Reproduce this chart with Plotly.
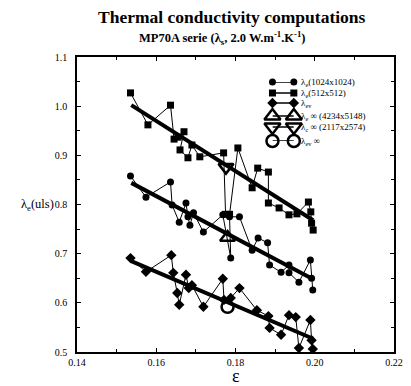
import plotly.graph_objects as go

# ---- data ----
eps_512 = [0.1535, 0.1579, 0.1636, 0.1645, 0.1655, 0.1670, 0.1660, 0.1680, 0.1690, 0.1710,
           0.1770, 0.1775, 0.1785, 0.1806, 0.1842, 0.1856, 0.1883, 0.1883, 0.1910, 0.1935,
           0.1955, 0.1984, 0.1990, 0.1992, 0.1996]
lam_512 = [1.027, 0.962, 1.002, 0.933, 0.937, 0.948, 0.911, 0.895, 0.921, 0.897,
           0.905, 0.780, 0.780, 0.915, 0.834, 0.874, 0.866, 0.803, 0.793, 0.779,
           0.781, 0.805, 0.785, 0.762, 0.748]

eps_1024 = [0.1535, 0.1574, 0.1636, 0.1640, 0.1658, 0.1675, 0.1680, 0.1685, 0.1694, 0.1719,
            0.1768, 0.1788, 0.1785, 0.1810, 0.1842, 0.1857, 0.1881, 0.1886, 0.1915, 0.1935,
            0.1935, 0.1960, 0.1989, 0.1992, 0.1995]
lam_1024 = [0.858, 0.815, 0.846, 0.799, 0.764, 0.803, 0.775, 0.758, 0.783, 0.744,
            0.779, 0.691, 0.775, 0.775, 0.707, 0.732, 0.722, 0.677, 0.662, 0.677,
            0.661, 0.642, 0.687, 0.650, 0.626]

eps_ev = [0.1535, 0.1574, 0.1638, 0.1643, 0.1653, 0.1658, 0.1675, 0.1682, 0.1690, 0.1719,
          0.1768, 0.1771, 0.1788, 0.1810, 0.1854, 0.1883, 0.1886, 0.1915, 0.1935, 0.1952,
          0.1960, 0.1989, 0.1992, 0.1995]
lam_ev = [0.691, 0.663, 0.697, 0.661, 0.620, 0.596, 0.657, 0.630, 0.636, 0.592,
          0.649, 0.606, 0.610, 0.630, 0.585, 0.573, 0.549, 0.535, 0.575, 0.571,
          0.508, 0.565, 0.524, 0.506]

# infinite-size estimates (single points)
eps_e_inf, lam_e_inf = [0.1780], [0.733]
eps_c_inf, lam_c_inf = [0.1776], [0.876]
eps_ev_inf, lam_ev_inf = [0.1780], [0.592]

# linear fits (end points)
fit_eps = [0.1537, 0.1996]
fit_512 = [1.002, 0.768]
fit_1024 = [0.844, 0.648]
fit_ev = [0.685, 0.527]

# legend entries (label, symbol, size) and their row offsets
legend_labels = ["λ<sub>e</sub>(1024x1024)", "λ<sub>e</sub>(512x512)", "λ<sub>ev</sub>",
                 "λ<sub>e</sub> ∞ (4234x5148)", "λ<sub>c</sub> ∞ (2117x2574)", "λ<sub>ev</sub> ∞"]
legend_symbols = ["circle", "square", "diamond", "triangle-up-open", "triangle-down-open",
                  "circle-open"]
legend_sizes = [7, 7, 8, 14, 14, 12]
legend_rows = [0, 11, 21, 34, 45, 59]
legend_sample_x = [0, 1]

FONT = "Liberation Serif"
fig = go.Figure()

for fy in (fit_512, fit_1024, fit_ev):
    fig.add_trace(go.Scatter(x=fit_eps, y=fy, mode="lines",
                             line=dict(color="black", width=4), showlegend=False,
                             hoverinfo="skip"))

series = [
    (eps_1024, lam_1024, "circle", 7),
    (eps_512, lam_512, "square", 7),
    (eps_ev, lam_ev, "diamond", 8),
]
for xs, ys, sym, sz in series:
    fig.add_trace(go.Scatter(x=xs, y=ys, mode="lines+markers", showlegend=False,
                             line=dict(color="black", width=1),
                             marker=dict(symbol=sym, size=sz, color="black")))

for xs, ys, sym, sz in [(eps_e_inf, lam_e_inf, "triangle-up-open", 13),
                        (eps_c_inf, lam_c_inf, "triangle-down-open", 13),
                        (eps_ev_inf, lam_ev_inf, "circle-open", 12)]:
    fig.add_trace(go.Scatter(x=xs, y=ys, mode="markers", showlegend=False,
                             marker=dict(symbol=sym, size=sz, color="black",
                                         line=dict(width=2.5, color="black"))))

# hand-drawn legend on an overlay axis
for lab, sym, sz, row in zip(legend_labels, legend_symbols, legend_sizes, legend_rows):
    fig.add_trace(go.Scatter(x=legend_sample_x, y=[row] * len(legend_sample_x),
                             mode="lines+markers", xaxis="x2", yaxis="y2",
                             showlegend=False, cliponaxis=False, hoverinfo="skip",
                             line=dict(color="black", width=1.5),
                             marker=dict(symbol=sym, size=sz, color="black",
                                         line=dict(width=2.5 if "open" in sym else 0,
                                                   color="black"))))
    fig.add_annotation(text=lab, xref="x2", yref="y2", x=legend_sample_x[-1], y=row,
                       xshift=5, xanchor="left", yanchor="middle", showarrow=False,
                       font=dict(family=FONT, size=9, color="black"))

axis_common = dict(showline=True, linecolor="black", linewidth=1.5, mirror="ticks",
                   ticks="inside", ticklen=4, tickwidth=1, tickcolor="black",
                   showgrid=False, zeroline=False,
                   tickfont=dict(family=FONT, size=10, color="black"))

fig.update_xaxes(range=[0.14, 0.22], dtick=0.02, tick0=0.14, tickformat=".2f",
                 minor=dict(dtick=0.01, ticks="inside", ticklen=3, tickcolor="black"),
                 **axis_common)
fig.update_yaxes(range=[0.5, 1.1], dtick=0.1, tick0=0.5, tickformat=".1f",
                 ticklabelstandoff=6,
                 minor=dict(dtick=0.05, ticks="inside", ticklen=3, tickcolor="black"),
                 **axis_common)

# overlay axes for the legend (pixel x 278..300, y 82..141)
fig.update_layout(
    xaxis2=dict(domain=[(278 - 77) / 326, (300 - 77) / 326], range=[0, 1], visible=False,
                anchor="y2", fixedrange=True),
    yaxis2=dict(domain=[(352 - 141) / 295, (352 - 82) / 295], range=[59, 0], visible=False,
                anchor="x2", fixedrange=True),
)

fig.add_annotation(text="<b>Thermal conductivity computations</b>", xref="paper", yref="paper",
                   x=0.488, y=1.0, yshift=40, xanchor="center", yanchor="middle",
                   showarrow=False, font=dict(family=FONT, size=17.5, color="black"))
fig.add_annotation(text="<b>MP70A serie (λ<sub>s</sub>, 2.0 W.m<sup>-1</sup>.K<sup>-1</sup>)</b>",
                   xref="paper", yref="paper", x=0.46, y=1.0, yshift=19,
                   xanchor="center", yanchor="middle",
                   showarrow=False, font=dict(family=FONT, size=12.5, color="black"))
fig.add_annotation(text="λ<sub>e</sub>(uls)", xref="paper", yref="paper",
                   x=0, xshift=-21, y=0.5, xanchor="right", yanchor="middle",
                   showarrow=False, font=dict(family=FONT, size=12.5, color="black"))
fig.add_annotation(text="ε", xref="paper", yref="paper", x=0.5, y=0, yshift=-24,
                   xanchor="center", yanchor="middle",
                   showarrow=False, font=dict(family=FONT, size=18, color="black"))

fig.update_layout(
    width=411, height=386,
    margin=dict(l=77, r=8, t=57, b=34),
    plot_bgcolor="white", paper_bgcolor="white",
    showlegend=False,
)

fig.write_html("out.html")
